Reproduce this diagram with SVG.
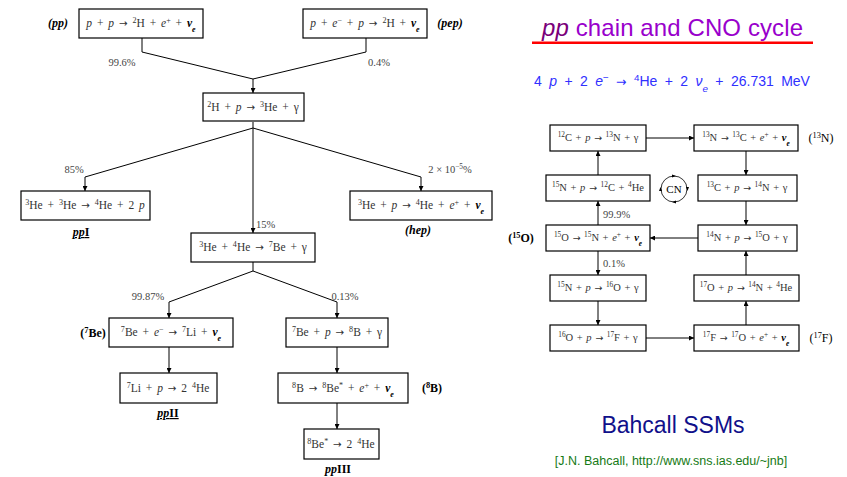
<svg xmlns="http://www.w3.org/2000/svg" width="847" height="477" viewBox="0 0 847 477">
<defs>
<style>
.bx{fill:#fff;stroke:#000;stroke-width:1.2}
.t{font-family:"Liberation Serif","DejaVu Serif",serif;font-size:11.5px;fill:#333;text-anchor:middle;word-spacing:2px}
.c{font-size:10.5px;word-spacing:1px}
.s{font-size:70%;baseline-shift:super}
.b{font-size:70%;baseline-shift:sub}
.i{font-style:italic}
.a{font-family:"DejaVu Sans",sans-serif;font-size:90%}
.nu{font-weight:bold;font-style:italic;fill:#000}
.lb{font-family:"Liberation Serif","DejaVu Serif",serif;font-size:12px;font-weight:bold;fill:#000;text-anchor:middle}
.pc{font-family:"Liberation Serif","DejaVu Serif",serif;font-size:10.5px;fill:#444;text-anchor:middle}
.cn{fill:none;stroke:#000;stroke-width:1}
</style>
<marker id="ah" viewBox="0 0 6 6" refX="6" refY="3" markerWidth="5" markerHeight="5" orient="auto" markerUnits="userSpaceOnUse"><path d="M0,0 L6,3 L0,6 z" fill="#000"/></marker>
</defs>
<rect width="847" height="477" fill="#fff"/>

<g id="connectors" class="cn">
<path d="M142,38 V52 L253,79 V93" marker-end="url(#ah)"/>
<path d="M366,38 V52 L253,79"/>
<path d="M253,122 V128 L85,177 V191" marker-end="url(#ah)"/>
<path d="M253,128 V233" marker-end="url(#ah)"/>
<path d="M253,128 L421,177 V191" marker-end="url(#ah)"/>
<path d="M253,262 V271 L169,302 V318" marker-end="url(#ah)"/>
<path d="M253,271 L337,302 V318" marker-end="url(#ah)"/>
<path d="M169,347 V373" marker-end="url(#ah)"/>
<path d="M337,347 V373" marker-end="url(#ah)"/>
<path d="M337,403 V429" marker-end="url(#ah)"/>
<path d="M646,138 H694" marker-end="url(#ah)"/>
<path d="M746,151 V175" marker-end="url(#ah)"/>
<path d="M746,201 V225" marker-end="url(#ah)"/>
<path d="M698,238 H650" marker-end="url(#ah)"/>
<path d="M598,225 V201" marker-end="url(#ah)"/>
<path d="M598,175 V151" marker-end="url(#ah)"/>
<path d="M598,251 V275" marker-end="url(#ah)"/>
<path d="M598,301 V325" marker-end="url(#ah)"/>
<path d="M646,338 H694" marker-end="url(#ah)"/>
<path d="M746,325 V301" marker-end="url(#ah)"/>
<path d="M746,275 V251" marker-end="url(#ah)"/>
</g>

<g id="labels">
<text class="pc" x="122" y="66">99.6%</text>
<text class="pc" x="379" y="66">0.4%</text>
<text class="pc" x="74" y="173">85%</text>
<text class="pc" x="450" y="173">2 × 10<tspan class="s">−5</tspan>%</text>
<text class="pc" x="256" y="228" style="text-anchor:start">15%</text>
<text class="pc" x="148" y="300">99.87%</text>
<text class="pc" x="345" y="300">0.13%</text>
<text class="pc" x="603" y="218" style="text-anchor:start">99.9%</text>
<text class="pc" x="603" y="267" style="text-anchor:start">0.1%</text>
</g>

<g id="n-pp">
<rect class="bx" x="79" y="9" width="124" height="29"/>
<text class="t" x="141" y="27"><tspan class="i">p</tspan> + <tspan class="i">p</tspan> <tspan class="a">→</tspan> <tspan class="s">2</tspan>H + <tspan class="i">e</tspan><tspan class="s">+</tspan> + <tspan class="nu">ν</tspan><tspan class="b nu">e</tspan></text>
<text class="lb" x="58" y="27" font-style="italic">(pp)</text>
</g>
<g id="n-pep">
<rect class="bx" x="303" y="9" width="124" height="29"/>
<text class="t" x="365" y="27"><tspan class="i">p</tspan> + <tspan class="i">e</tspan><tspan class="s">−</tspan> + <tspan class="i">p</tspan> <tspan class="a">→</tspan> <tspan class="s">2</tspan>H + <tspan class="nu">ν</tspan><tspan class="b nu">e</tspan></text>
<text class="lb" x="450" y="27" font-style="italic">(pep)</text>
</g>
<g id="n-dp">
<rect class="bx" x="203" y="93" width="101" height="28"/>
<text class="t" x="253" y="111"><tspan class="s">2</tspan>H + <tspan class="i">p</tspan> <tspan class="a">→</tspan> <tspan class="s">3</tspan>He + γ</text>
</g>
<g id="n-he3he3">
<rect class="bx" x="21" y="191" width="129" height="29"/>
<text class="t" x="85" y="209"><tspan class="s">3</tspan>He + <tspan class="s">3</tspan>He <tspan class="a">→</tspan> <tspan class="s">4</tspan>He + 2 <tspan class="i">p</tspan></text>
<text class="lb" x="81" y="236" text-decoration="underline"><tspan font-style="italic">pp</tspan>I</text>
</g>
<g id="n-hep">
<rect class="bx" x="350" y="191" width="142" height="29"/>
<text class="t" x="421" y="209"><tspan class="s">3</tspan>He + <tspan class="i">p</tspan> <tspan class="a">→</tspan> <tspan class="s">4</tspan>He + <tspan class="i">e</tspan><tspan class="s">+</tspan> + <tspan class="nu">ν</tspan><tspan class="b nu">e</tspan></text>
<text class="lb" x="418" y="234" font-style="italic">(hep)</text>
</g>
<g id="n-he3he4">
<rect class="bx" x="191" y="233" width="124" height="29"/>
<text class="t" x="253" y="251"><tspan class="s">3</tspan>He + <tspan class="s">4</tspan>He <tspan class="a">→</tspan> <tspan class="s">7</tspan>Be + γ</text>
</g>
<g id="n-be7e">
<rect class="bx" x="109" y="318" width="124" height="29"/>
<text class="t" x="171" y="336"><tspan class="s">7</tspan>Be + <tspan class="i">e</tspan><tspan class="s">−</tspan> <tspan class="a">→</tspan> <tspan class="s">7</tspan>Li + <tspan class="nu">ν</tspan><tspan class="b nu">e</tspan></text>
<text class="lb" x="93" y="337">(<tspan class="s">7</tspan>Be)</text>
</g>
<g id="n-be7p">
<rect class="bx" x="286" y="318" width="102" height="29"/>
<text class="t" x="337" y="336"><tspan class="s">7</tspan>Be + <tspan class="i">p</tspan> <tspan class="a">→</tspan> <tspan class="s">8</tspan>B + γ</text>
</g>
<g id="n-li7">
<rect class="bx" x="120" y="373" width="97" height="30"/>
<text class="t" x="168" y="392"><tspan class="s">7</tspan>Li + <tspan class="i">p</tspan> <tspan class="a">→</tspan> 2 <tspan class="s">4</tspan>He</text>
<text class="lb" x="168" y="417" text-decoration="underline"><tspan font-style="italic">pp</tspan>II</text>
</g>
<g id="n-b8">
<rect class="bx" x="278" y="373" width="130" height="30"/>
<text class="t" x="343" y="392"><tspan class="s">8</tspan>B <tspan class="a">→</tspan> <tspan class="s">8</tspan>Be<tspan class="s">*</tspan> + <tspan class="i">e</tspan><tspan class="s">+</tspan> + <tspan class="nu">ν</tspan><tspan class="b nu">e</tspan></text>
<text class="lb" x="432" y="392">(<tspan class="s">8</tspan>B)</text>
</g>
<g id="n-be8">
<rect class="bx" x="304" y="429" width="75" height="30"/>
<text class="t" x="341" y="448"><tspan class="s">8</tspan>Be<tspan class="s">*</tspan> <tspan class="a">→</tspan> 2 <tspan class="s">4</tspan>He</text>
<text class="lb" x="338" y="473"><tspan font-style="italic">pp</tspan>III</text>
</g>

<g id="title">
<text x="542" y="36" font-family="'Liberation Sans','DejaVu Sans',sans-serif" font-size="24" fill="#9900cc" textLength="261"><tspan font-style="italic" fill="#7a007a">pp</tspan> chain and CNO cycle</text>
<rect x="532" y="41.5" width="281" height="2.5" fill="#ff0000"/>
<text x="672" y="86" text-anchor="middle" font-family="'Liberation Sans','DejaVu Sans',sans-serif" font-size="14" word-spacing="3.5" fill="#3030ff">4 <tspan font-style="italic">p</tspan> + 2 <tspan font-style="italic">e</tspan><tspan class="s">−</tspan> <tspan class="a">→</tspan> <tspan class="s">4</tspan>He + 2 <tspan font-style="italic">ν</tspan><tspan class="b" font-style="italic">e</tspan> + 26.731 MeV</text>
</g>

<g id="n-c12">
<rect class="bx" x="550" y="125" width="96" height="26"/>
<text class="t c" x="598" y="141"><tspan class="s">12</tspan>C + <tspan class="i">p</tspan> <tspan class="a">→</tspan> <tspan class="s">13</tspan>N + γ</text>
</g>
<g id="n-n13">
<rect class="bx" x="694" y="125" width="104" height="26"/>
<text class="t c" x="746" y="141"><tspan class="s">13</tspan>N <tspan class="a">→</tspan> <tspan class="s">13</tspan>C + <tspan class="i">e</tspan><tspan class="s">+</tspan> + <tspan class="nu">ν</tspan><tspan class="b nu">e</tspan></text>
<text class="lb" x="821" y="142" style="font-weight:normal">(<tspan class="s">13</tspan>N)</text>
</g>
<g id="n-n15p">
<rect class="bx" x="546" y="175" width="104" height="26"/>
<text class="t c" x="598" y="191"><tspan class="s">15</tspan>N + <tspan class="i">p</tspan> <tspan class="a">→</tspan> <tspan class="s">12</tspan>C + <tspan class="s">4</tspan>He</text>
</g>
<g id="n-c13">
<rect class="bx" x="698" y="175" width="99" height="26"/>
<text class="t c" x="747" y="191"><tspan class="s">13</tspan>C + <tspan class="i">p</tspan> <tspan class="a">→</tspan> <tspan class="s">14</tspan>N + γ</text>
</g>
<g id="n-cn">
<circle cx="674" cy="189" r="13" fill="none" stroke="#000" stroke-width="0.8"/>
<path d="M672,174.5 L676,176 L672,177.5 z M689,187 L687.5,191 L686,187 z M676,203.5 L672,202 L676,200.5 z M659,191 L660.5,187 L662,191 z" fill="#000"/>
<text class="t" x="674" y="193" style="fill:#000;font-size:11px">CN</text>
</g>
<g id="n-o15">
<rect class="bx" x="546" y="225" width="104" height="26"/>
<text class="t c" x="598" y="241"><tspan class="s">15</tspan>O <tspan class="a">→</tspan> <tspan class="s">15</tspan>N + <tspan class="i">e</tspan><tspan class="s">+</tspan> + <tspan class="nu">ν</tspan><tspan class="b nu">e</tspan></text>
<text class="lb" x="521" y="242">(<tspan class="s">15</tspan>O)</text>
</g>
<g id="n-n14">
<rect class="bx" x="698" y="225" width="99" height="26"/>
<text class="t c" x="747" y="241"><tspan class="s">14</tspan>N + <tspan class="i">p</tspan> <tspan class="a">→</tspan> <tspan class="s">15</tspan>O + γ</text>
</g>
<g id="n-n15b">
<rect class="bx" x="550" y="275" width="96" height="26"/>
<text class="t c" x="598" y="291"><tspan class="s">15</tspan>N + <tspan class="i">p</tspan> <tspan class="a">→</tspan> <tspan class="s">16</tspan>O + γ</text>
</g>
<g id="n-o17">
<rect class="bx" x="694" y="275" width="105" height="26"/>
<text class="t c" x="746" y="291"><tspan class="s">17</tspan>O + <tspan class="i">p</tspan> <tspan class="a">→</tspan> <tspan class="s">14</tspan>N + <tspan class="s">4</tspan>He</text>
</g>
<g id="n-o16">
<rect class="bx" x="550" y="325" width="96" height="26"/>
<text class="t c" x="598" y="341"><tspan class="s">16</tspan>O + <tspan class="i">p</tspan> <tspan class="a">→</tspan> <tspan class="s">17</tspan>F + γ</text>
</g>
<g id="n-f17">
<rect class="bx" x="694" y="325" width="105" height="26"/>
<text class="t c" x="746" y="341"><tspan class="s">17</tspan>F <tspan class="a">→</tspan> <tspan class="s">17</tspan>O + <tspan class="i">e</tspan><tspan class="s">+</tspan> + <tspan class="nu">ν</tspan><tspan class="b nu">e</tspan></text>
<text class="lb" x="821" y="342" style="font-weight:normal">(<tspan class="s">17</tspan>F)</text>
</g>

<g id="footer">
<text x="673" y="433" text-anchor="middle" font-family="'Liberation Sans','DejaVu Sans',sans-serif" font-size="23" fill="#10108a">Bahcall SSMs</text>
<text x="671" y="465" text-anchor="middle" font-family="'Liberation Sans','DejaVu Sans',sans-serif" font-size="12.5" fill="#167a16">[J.N. Bahcall, http://www.sns.ias.edu/~jnb]</text>
</g>
</svg>
